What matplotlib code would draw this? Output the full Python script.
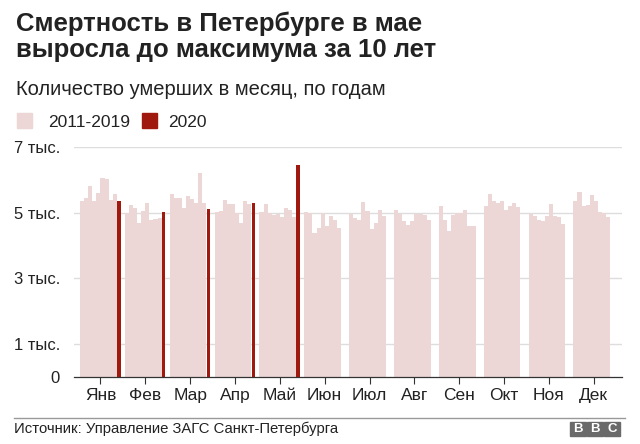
import numpy as np
import matplotlib
matplotlib.use("Agg")
import matplotlib.pyplot as plt
from matplotlib.patches import Rectangle

plt.rcParams['font.family'] = ['Liberation Sans', 'DejaVu Sans']

# monthly deaths, thousands
months = ['Янв', 'Фев', 'Мар', 'Апр', 'Май', 'Июн',
          'Июл', 'Авг', 'Сен', 'Окт', 'Ноя', 'Дек']
# 2011..2019 for each month
past_years = [
    [5.37, 5.44, 5.81, 5.35, 5.59, 6.07, 6.04, 5.40, 5.58],
    [5.00, 5.23, 5.14, 4.70, 5.06, 5.30, 4.78, 4.82, 4.85],
    [5.58, 5.44, 5.44, 5.13, 5.52, 5.42, 5.29, 6.21, 5.30],
    [5.02, 5.06, 5.39, 5.25, 5.27, 4.98, 4.69, 5.35, 5.28],
    [5.01, 5.28, 4.98, 4.92, 4.95, 4.88, 5.13, 5.07, 4.87],
    [5.01, 5.00, 4.38, 4.52, 4.98, 4.60, 4.89, 4.78, 4.52],
    [4.95, 4.84, 4.79, 5.33, 5.05, 4.49, 4.69, 5.07, 4.89],
    [5.07, 4.97, 4.75, 4.64, 4.75, 4.95, 4.95, 4.92, 4.77],
    [5.21, 4.79, 4.44, 4.93, 4.98, 4.98, 5.08, 4.60, 4.60],
    [5.21, 5.56, 5.36, 5.29, 5.37, 5.07, 5.20, 5.30, 5.16],
    [4.95, 4.91, 4.79, 4.74, 4.90, 5.26, 4.90, 4.86, 4.65],
    [5.37, 5.63, 5.20, 5.22, 5.54, 5.37, 5.01, 4.98, 4.87],
]
# 2020, January to May
year_2020 = [5.37, 5.01, 5.10, 5.29, 6.44]

ytick_vals = [0, 1, 3, 5, 7]
ytick_labels = ['0', '1 тыс.', '3 тыс.', '5 тыс.', '7 тыс.']

pink = '#ecd6d6'
red = '#a0190f'
txt = '#222222'

fig = plt.figure(figsize=(6.4, 4.44), dpi=100)
ax = fig.add_axes([74/640, 1-377/444, 548/640, 230/444])

w = 1/11
for i, vals in enumerate(past_years):
    x = i + (np.arange(9) - 4.5) * w
    ax.bar(x, vals, width=w, color=pink, linewidth=0, zorder=2)
for i, v in enumerate(year_2020):
    ax.bar(i + 4.5 * w, v, width=w*0.85, color=red, linewidth=0, zorder=3)

ax.set_xlim(-0.59, 11.63)
ax.set_ylim(0, 7)
ax.set_yticks(ytick_vals)
ax.set_yticklabels(ytick_labels, fontsize=12, color=txt)
ax.set_xticks(range(12))
ax.set_xticklabels(months, fontsize=12.5, color=txt)
ax.tick_params(axis='y', length=0, pad=10)
ax.tick_params(axis='x', length=5, width=0.8, color='#333333', pad=3)
for v in ytick_vals[1:]:
    ax.axhline(v, color='#dddddd', linewidth=1, zorder=1)
for s in ['top', 'right', 'left']:
    ax.spines[s].set_visible(False)
ax.spines['bottom'].set_color('#333333')
ax.spines['bottom'].set_linewidth(0.9)
ax.spines['bottom'].set_zorder(4)

# titles
fig.text(16/640, 1-31/444, 'Смертность в Петербурге в мае', fontsize=18.5,
         fontweight='bold', color=txt, va='baseline')
fig.text(16/640, 1-57/444, 'выросла до максимума за 10 лет', fontsize=18.5,
         fontweight='bold', color=txt, va='baseline')
fig.text(16/640, 1-95/444, 'Количество умерших в месяц, по годам', fontsize=14.5,
         color=txt, va='baseline')

# legend
fig.patches.append(Rectangle((17/640, 1-128/444), 15/640, 15/444,
                             transform=fig.transFigure, color=pink))
fig.text(48/640, 1-127/444, '2011-2019', fontsize=12.5, color=txt, va='baseline')
fig.patches.append(Rectangle((142/640, 1-128/444), 15/640, 15/444,
                             transform=fig.transFigure, color=red))
fig.text(168/640, 1-127/444, '2020', fontsize=12.5, color=txt, va='baseline')

# footer
fig.add_artist(plt.Line2D([14/640, 625/640], [1-418/444, 1-418/444],
                          transform=fig.transFigure, color='#999999', linewidth=1))
fig.text(14/640, 1-433/444, 'Источник: Управление ЗАГС Санкт-Петербурга',
         fontsize=10.7, color=txt, va='baseline')
for k, letter in enumerate('BBC'):
    x0 = 570 + k * 17
    fig.patches.append(Rectangle((x0/640, 1-435.5/444), 15.5/640, 14/444,
                                 transform=fig.transFigure, color='#6a6a6a'))
    fig.text((x0 + 7.75)/640, 1-428.5/444, letter, fontsize=9.5, fontweight='bold',
             color='white', ha='center', va='center')

fig.savefig('out.png', dpi=100)
